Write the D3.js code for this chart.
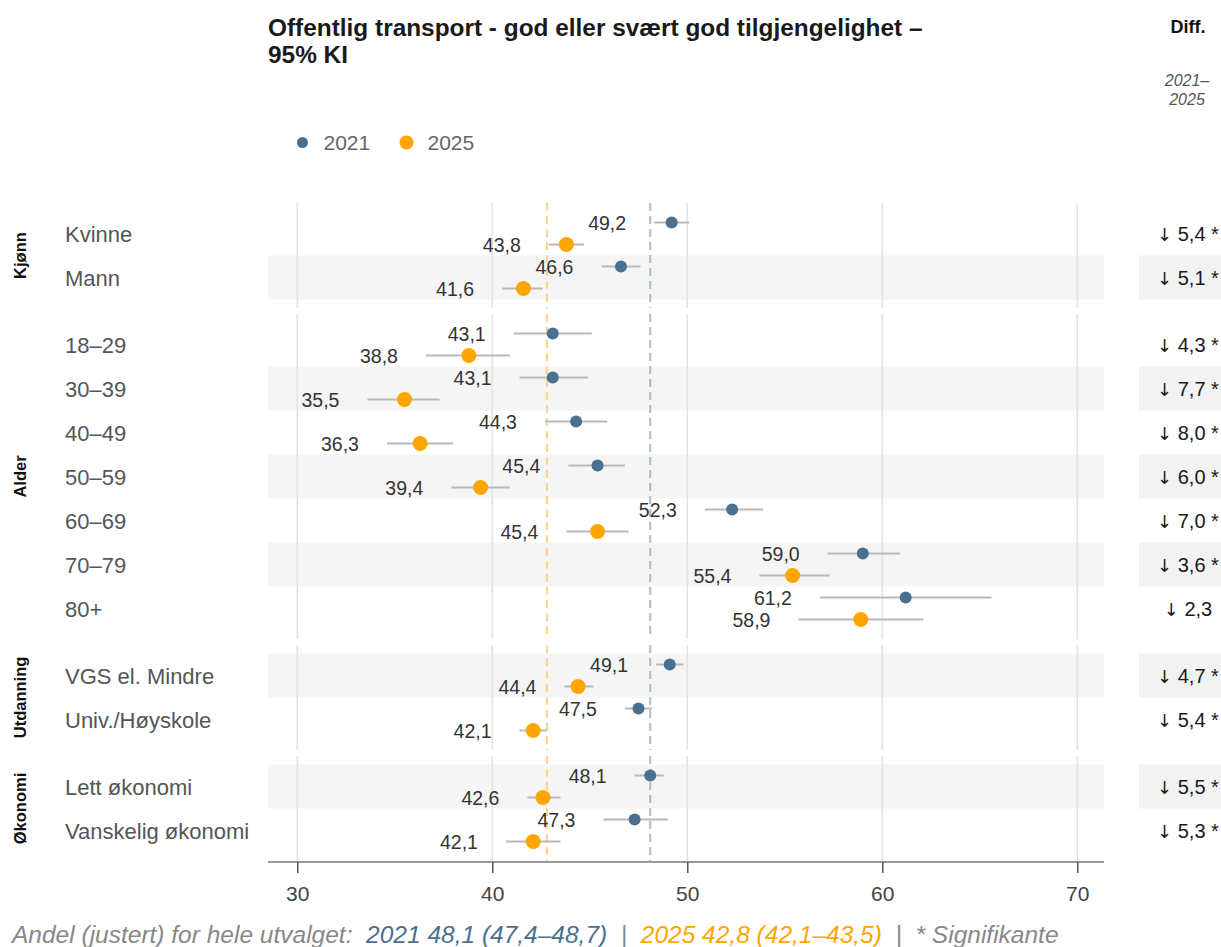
<!DOCTYPE html>
<html>
<head>
<meta charset="utf-8">
<script src="https://cdn.jsdelivr.net/npm/d3@7"></script>
<style>
  html, body { margin: 0; padding: 0; background: #fff; }
  svg { display: block; font-family: "Liberation Sans", Arial, Helvetica, sans-serif; }
  .pre { white-space: pre; }
</style>
</head>
<body>
<svg id="chart" width="1221" height="947"></svg>
<script>
// ---------- DATA ----------
const groupNames = ["Kjønn", "Alder", "Utdanning", "Økonomi"];
const categories = ["Kvinne", "Mann", "18–29", "30–39", "40–49", "50–59", "60–69", "70–79", "80+",
  "VGS el. Mindre", "Univ./Høyskole", "Lett økonomi", "Vanskelig økonomi"];
const categoryGroup = ["Kjønn", "Kjønn", "Alder", "Alder", "Alder", "Alder", "Alder", "Alder", "Alder",
  "Utdanning", "Utdanning", "Økonomi", "Økonomi"];
const years = ["2021", "2025"];
const value2021 = [49.2, 46.6, 43.1, 43.1, 44.3, 45.4, 52.3, 59.0, 61.2, 49.1, 47.5, 48.1, 47.3];
const low2021   = [48.3, 45.6, 41.1, 41.4, 42.7, 43.9, 50.9, 57.2, 56.8, 48.4, 46.8, 47.3, 45.7];
const high2021  = [50.1, 47.6, 45.1, 44.9, 45.9, 46.8, 53.9, 60.9, 65.6, 49.8, 48.2, 48.8, 49.0];
const value2025 = [43.8, 41.6, 38.8, 35.5, 36.3, 39.4, 45.4, 55.4, 58.9, 44.4, 42.1, 42.6, 42.1];
const low2025   = [42.9, 40.5, 36.6, 33.6, 34.6, 37.9, 43.8, 53.7, 55.7, 43.7, 41.4, 41.8, 40.7];
const high2025  = [44.7, 42.6, 40.9, 37.3, 38.0, 40.9, 47.0, 57.3, 62.1, 45.2, 42.8, 43.5, 43.5];
const diffValues = [5.4, 5.1, 4.3, 7.7, 8.0, 6.0, 7.0, 3.6, 2.3, 4.7, 5.4, 5.5, 5.3];
const significant = [true, true, true, true, true, true, true, true, false, true, true, true, true];
const overall = { "2021": { v: 48.1, lo: 47.4, hi: 48.7 }, "2025": { v: 42.8, lo: 42.1, hi: 43.5 } };
const xTicks = [30, 40, 50, 60, 70];
const xDomain = [28.5, 71.37];

// ---------- STYLE ----------
const colors = { "2021": "#4a7090", "2025": "#FFA500" };
const refColors = { "2021": "#a9bccb", "2025": "#ffd27f" };
const radius = { "2021": 6, "2025": 7.5 };
const fmt = v => d3.format(".1f")(v).replace(".", ",");

const svg = d3.select("#chart");
const plotLeft = 268, plotRight = 1104;
const plotTop = 203, rowH = 44, padOuter = 8.5, gap = 6;

const x = d3.scaleLinear().domain(xDomain).range([plotLeft, plotRight]);

// rows
const rows = categories.map((c, i) => ({
  cat: c, group: categoryGroup[i], idx: i,
  "2021": { v: value2021[i], lo: low2021[i], hi: high2021[i] },
  "2025": { v: value2025[i], lo: low2025[i], hi: high2025[i] },
  diff: diffValues[i], sig: significant[i]
}));

// panels with band scales
let yCursor = plotTop;
const panels = groupNames.map(g => {
  const cats = rows.filter(r => r.group === g).map(r => r.cat);
  const h = cats.length * rowH + 2 * padOuter;
  const band = d3.scaleBand().domain(cats).range([yCursor, yCursor + h])
    .paddingInner(0).paddingOuter(padOuter / rowH);
  const p = { g, cats, y0: yCursor, y1: yCursor + h, band };
  yCursor += h + gap;
  return p;
});
const plotBottom = panels[panels.length - 1].y1;
const bandOf = cat => panels.find(p => p.cats.includes(cat)).band;
const yr = d3.scalePoint().domain(years).range([-11, 11]);
const yCenter = r => bandOf(r.cat)(r.cat) + bandOf(r.cat).bandwidth() / 2;

// stripes
svg.append("g").selectAll("rect").data(rows.filter(r => r.idx % 2 === 1)).join("rect")
  .attr("x", plotLeft).attr("width", plotRight - plotLeft)
  .attr("y", r => bandOf(r.cat)(r.cat)).attr("height", r => bandOf(r.cat).bandwidth())
  .attr("fill", "#f5f5f5");

// diff boxes
svg.append("g").selectAll("rect").data(rows.filter(r => r.idx % 2 === 1)).join("rect")
  .attr("x", 1139).attr("width", 1221 - 1139)
  .attr("y", r => bandOf(r.cat)(r.cat)).attr("height", r => bandOf(r.cat).bandwidth())
  .attr("fill", "#f2f2f2");

// gridlines per panel
panels.forEach(p => {
  svg.append("g").selectAll("line").data(xTicks).join("line")
    .attr("x1", d => x(d)).attr("x2", d => x(d))
    .attr("y1", p.y0).attr("y2", p.y1)
    .attr("stroke", "#e3e3e3").attr("stroke-width", 1.6);
});

// reference lines
panels.forEach(p => {
  years.forEach(yv => {
    svg.append("line")
      .attr("x1", x(overall[yv].v)).attr("x2", x(overall[yv].v))
      .attr("y1", p.y0).attr("y2", p.y1)
      .attr("stroke", refColors[yv]).attr("stroke-width", 2)
      .attr("stroke-dasharray", "8,5");
  });
});

// group labels
panels.forEach(p => {
  svg.append("text")
    .attr("transform", `translate(20,${(p.y0 + p.y1) / 2}) rotate(-90)`)
    .attr("text-anchor", "middle").attr("dominant-baseline", "central")
    .attr("font-size", 16.5).attr("font-weight", "bold").attr("fill", "#111")
    .text(p.g);
});

// category labels
svg.append("g").selectAll("text").data(rows).join("text")
  .attr("x", 65).attr("y", r => yCenter(r) + 1)
  .attr("dominant-baseline", "central")
  .attr("font-size", 22).attr("fill", "#555")
  .text(r => r.cat);

// CI + points + labels
years.forEach(yv => {
  const g = svg.append("g");
  g.selectAll("line").data(rows).join("line")
    .attr("x1", r => x(r[yv].lo)).attr("x2", r => x(r[yv].hi))
    .attr("y1", r => yCenter(r) + yr(yv)).attr("y2", r => yCenter(r) + yr(yv))
    .attr("stroke", "#b9b9b9").attr("stroke-width", 2);
  g.selectAll("circle").data(rows).join("circle")
    .attr("cx", r => x(r[yv].v)).attr("cy", r => yCenter(r) + yr(yv))
    .attr("r", radius[yv]).attr("fill", colors[yv]);
  g.selectAll("text").data(rows).join("text")
    .attr("x", r => x(r[yv].lo) - 28).attr("y", r => yCenter(r) + yr(yv))
    .attr("text-anchor", "end").attr("dominant-baseline", "central")
    .attr("font-size", 19.5).attr("fill", "#333")
    .text(r => fmt(r[yv].v));
});

// diff column
const diffText = svg.append("g").selectAll("text").data(rows).join("text")
  .attr("class", "pre")
  .attr("x", 1188).attr("y", r => yCenter(r))
  .attr("text-anchor", "middle").attr("dominant-baseline", "central")
  .attr("font-size", 20).attr("fill", "#1a1a1a");
diffText.append("tspan").attr("font-family", "DejaVu Sans").attr("font-size", 18).text("↓");
diffText.append("tspan").text(r => " " + fmt(r.diff) + (r.sig ? " *" : ""));

svg.append("text").attr("x", 1188).attr("y", 33).attr("text-anchor", "middle")
  .attr("font-size", 18).attr("font-weight", "bold").attr("fill", "#111").text("Diff.");
svg.append("text").attr("x", 1187).attr("y", 86).attr("text-anchor", "middle")
  .attr("font-size", 16).attr("font-style", "italic").attr("fill", "#555").text("2021–");
svg.append("text").attr("x", 1187).attr("y", 105).attr("text-anchor", "middle")
  .attr("font-size", 16).attr("font-style", "italic").attr("fill", "#555").text("2025");

// x axis
const axis = svg.append("g").attr("transform", `translate(0,${plotBottom + 1})`)
  .call(d3.axisBottom(x).tickValues(xTicks).tickSize(11).tickPadding(13));
axis.select(".domain").attr("stroke", "#999").attr("stroke-width", 2)
  .attr("d", `M${plotLeft},0H${plotRight}`);
axis.selectAll(".tick line").attr("stroke", "#555").attr("stroke-width", 1.5);
axis.selectAll(".tick text").attr("font-size", 21).attr("fill", "#444")
  .attr("font-family", "Liberation Sans, Arial, sans-serif");

// title
const title = svg.append("text").attr("x", 268).attr("y", 36)
  .attr("font-size", 24.4).attr("font-weight", "bold").attr("fill", "#1a1a1a");
title.append("tspan").attr("x", 268).text("Offentlig transport - god eller svært god tilgjengelighet –");
title.append("tspan").attr("x", 268).attr("dy", 27).text("95% KI");

// legend
const legend = svg.append("g");
const legX = { "2021": 302.5, "2025": 406.5 };
years.forEach(yv => {
  legend.append("circle").attr("cx", legX[yv]).attr("cy", 142.5)
    .attr("r", yv === "2021" ? 5.5 : 7).attr("fill", colors[yv]);
  legend.append("text").attr("x", legX[yv] + 21).attr("y", 142.5)
    .attr("dominant-baseline", "central").attr("font-size", 21).attr("fill", "#666").text(yv);
});

// footer
const foot = svg.append("text").attr("class", "pre").attr("x", 12).attr("y", 943)
  .attr("font-size", 24.5).attr("font-style", "italic").attr("fill", "#888");
const o1 = overall["2021"], o2 = overall["2025"];
foot.append("tspan").text("Andel (justert) for hele utvalget:  ");
foot.append("tspan").attr("fill", colors["2021"])
  .text(`2021 ${fmt(o1.v)} (${fmt(o1.lo)}–${fmt(o1.hi)})`);
foot.append("tspan").text("  |  ");
foot.append("tspan").attr("fill", colors["2025"])
  .text(`2025 ${fmt(o2.v)} (${fmt(o2.lo)}–${fmt(o2.hi)})`);
foot.append("tspan").text("  |  * Signifikante");
</script>
</body>
</html>
